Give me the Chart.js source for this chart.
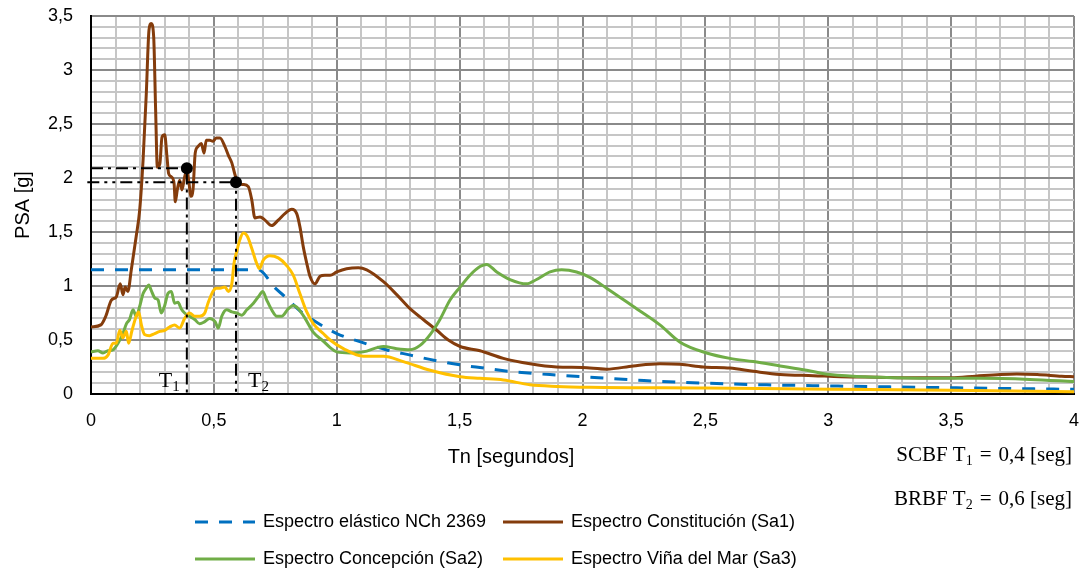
<!DOCTYPE html>
<html>
<head>
<meta charset="utf-8">
<script src="https://cdn.jsdelivr.net/npm/chart.js@4.4.1/dist/chart.umd.min.js"></script>
<style>
  body { margin: 0; background: #fff; }
  #wrap { width: 1084px; height: 573px; }
</style>
</head>
<body>
<div id="wrap"><canvas id="myChart" width="1084" height="573"></canvas></div>
<script>
// Espectro elástico NCh 2369
const tNCh = [0, 0.68, 0.75, 0.8, 0.85, 0.9, 0.95, 1.0, 1.1, 1.2, 1.3, 1.4, 1.5, 1.6, 1.7, 1.8, 1.9, 2.0, 2.25, 2.5, 2.75, 3.0, 3.25, 3.5, 3.75, 4.0];
const psaNCh = [1.15, 1.15, 0.98, 0.88, 0.77, 0.69, 0.62, 0.56, 0.48, 0.41, 0.36, 0.31, 0.27, 0.24, 0.21, 0.19, 0.175, 0.16, 0.125, 0.10, 0.085, 0.075, 0.066, 0.058, 0.05, 0.043];

// Espectro Constitución (Sa1)
const tSa1 = [0, 0.04, 0.06, 0.083, 0.103, 0.119, 0.13, 0.139, 0.15, 0.164, 0.184, 0.198, 0.212, 0.225, 0.236, 0.245, 0.255, 0.263, 0.27, 0.28, 0.289, 0.3, 0.309, 0.316, 0.327, 0.338, 0.343, 0.351, 0.361, 0.37, 0.381, 0.39, 0.399, 0.406, 0.415, 0.424, 0.435, 0.449, 0.46, 0.469, 0.483, 0.496, 0.51, 0.525, 0.545, 0.559, 0.573, 0.586, 0.599, 0.62, 0.64, 0.654, 0.667, 0.688, 0.708, 0.735, 0.762, 0.789, 0.817, 0.837, 0.85, 0.864, 0.878, 0.891, 0.911, 0.932, 0.952, 0.973, 1.0, 1.04, 1.088, 1.122, 1.19, 1.244, 1.298, 1.352, 1.407, 1.454, 1.502, 1.583, 1.678, 1.786, 1.895, 2.0, 2.098, 2.207, 2.315, 2.397, 2.492, 2.6, 2.695, 2.804, 2.939, 3.05, 3.2, 3.35, 3.5, 3.6, 3.7, 3.767, 3.85, 3.95, 4.0];
const psaSa1 = [0.62, 0.64, 0.72, 0.87, 0.9, 1.02, 0.92, 0.99, 0.95, 1.15, 1.46, 1.7, 2.17, 2.78, 3.37, 3.43, 3.31, 2.63, 2.1, 2.13, 2.38, 2.4, 2.2, 2.04, 2.01, 1.95, 1.78, 1.89, 1.98, 1.89, 2.01, 2.07, 1.95, 1.83, 1.89, 2.23, 2.29, 2.32, 2.23, 2.35, 2.35, 2.34, 2.37, 2.37, 2.29, 2.21, 2.14, 2.03, 1.95, 1.94, 1.92, 1.8, 1.63, 1.64, 1.61, 1.56, 1.61, 1.67, 1.71, 1.67, 1.55, 1.36, 1.21, 1.09, 1.02, 1.09, 1.1, 1.1, 1.13, 1.16, 1.17, 1.15, 1.04, 0.92, 0.79, 0.69, 0.59, 0.5, 0.44, 0.4, 0.33, 0.28, 0.25, 0.245, 0.23, 0.26, 0.28, 0.275, 0.25, 0.24, 0.21, 0.18, 0.17, 0.16, 0.155, 0.15, 0.15, 0.165, 0.18, 0.185, 0.18, 0.165, 0.16];

// Espectro Concepción (Sa2)
const tSa2 = [0, 0.028, 0.049, 0.069, 0.09, 0.11, 0.13, 0.144, 0.157, 0.171, 0.184, 0.198, 0.212, 0.225, 0.235, 0.245, 0.259, 0.273, 0.286, 0.3, 0.313, 0.327, 0.34, 0.354, 0.367, 0.381, 0.401, 0.422, 0.442, 0.463, 0.483, 0.505, 0.518, 0.532, 0.552, 0.573, 0.593, 0.613, 0.634, 0.661, 0.681, 0.699, 0.715, 0.735, 0.756, 0.776, 0.803, 0.823, 0.844, 0.871, 0.905, 0.945, 0.973, 1.0, 1.054, 1.108, 1.19, 1.244, 1.298, 1.339, 1.38, 1.42, 1.461, 1.502, 1.542, 1.583, 1.61, 1.651, 1.705, 1.773, 1.813, 1.868, 1.915, 1.976, 2.03, 2.098, 2.207, 2.315, 2.397, 2.505, 2.6, 2.695, 2.804, 2.912, 3.007, 3.21, 3.414, 3.617, 3.82, 4.0];
const psaSa2 = [0.39, 0.4, 0.38, 0.4, 0.41, 0.47, 0.56, 0.65, 0.69, 0.78, 0.72, 0.81, 0.93, 0.98, 1.01, 0.96, 0.89, 0.87, 0.75, 0.82, 0.93, 0.95, 0.84, 0.85, 0.79, 0.75, 0.72, 0.69, 0.65, 0.67, 0.7, 0.67, 0.61, 0.72, 0.78, 0.76, 0.75, 0.73, 0.78, 0.84, 0.9, 0.95, 0.87, 0.78, 0.72, 0.72, 0.79, 0.82, 0.79, 0.7, 0.57, 0.49, 0.43, 0.39, 0.38, 0.39, 0.44, 0.42, 0.41, 0.45, 0.55, 0.69, 0.87, 0.99, 1.1, 1.18, 1.2, 1.13, 1.06, 1.02, 1.06, 1.13, 1.15, 1.13, 1.08, 0.98, 0.81, 0.64, 0.48, 0.38, 0.33, 0.3, 0.26, 0.22, 0.18, 0.155, 0.145, 0.145, 0.135, 0.115];

// Espectro Viña del Mar (Sa3)
const tSa3 = [0, 0.049, 0.069, 0.09, 0.103, 0.117, 0.13, 0.144, 0.153, 0.167, 0.184, 0.194, 0.205, 0.218, 0.238, 0.259, 0.28, 0.3, 0.32, 0.34, 0.361, 0.381, 0.401, 0.422, 0.442, 0.463, 0.476, 0.496, 0.51, 0.525, 0.545, 0.559, 0.573, 0.582, 0.593, 0.606, 0.62, 0.636, 0.654, 0.674, 0.685, 0.701, 0.728, 0.762, 0.796, 0.823, 0.85, 0.878, 0.905, 0.945, 0.973, 1.027, 1.108, 1.19, 1.271, 1.38, 1.502, 1.583, 1.678, 1.786, 1.895, 2.03, 2.5, 3.0, 3.5, 4.0];
const psaSa3 = [0.33, 0.33, 0.36, 0.47, 0.47, 0.59, 0.52, 0.58, 0.47, 0.59, 0.72, 0.76, 0.64, 0.55, 0.54, 0.56, 0.58, 0.59, 0.62, 0.64, 0.61, 0.7, 0.75, 0.72, 0.72, 0.75, 0.84, 0.95, 0.98, 0.98, 0.99, 0.95, 1.02, 1.21, 1.32, 1.43, 1.49, 1.46, 1.35, 1.21, 1.16, 1.24, 1.28, 1.26, 1.19, 1.1, 0.93, 0.76, 0.65, 0.56, 0.5, 0.42, 0.35, 0.35, 0.3, 0.22, 0.16, 0.145, 0.13, 0.085, 0.07, 0.062, 0.055, 0.045, 0.035, 0.02];

// periodos de diseño
const T1 = 0.39, psaT1 = 2.09;
const T2 = 0.59, psaT2 = 1.96;

const xTicks = ["0", "0,5", "1", "1,5", "2", "2,5", "3", "3,5", "4"];

const toPts = (xs, ys) => xs.map((x, i) => ({ x: x, y: ys[i] }));

// textos con subíndice (T1, T2)
function drawParts(ctx, parts, x, y, align) {
    let total = 0;
    parts.forEach(p => { ctx.font = p.font; total += ctx.measureText(p.text).width; });
    let cx = align === "right" ? x - total : x;
    ctx.textAlign = "left";
    ctx.textBaseline = "alphabetic";
    parts.forEach(p => {
        ctx.font = p.font;
        ctx.fillText(p.text, cx, y + (p.dy || 0));
        cx += ctx.measureText(p.text).width;
    });
}

const textPlugin = {
    id: "textPlugin",
    afterDraw(chart) {
        const ctx = chart.ctx;
        const xs = chart.scales.x;
        ctx.save();
        ctx.fillStyle = "#000";

        // titulo eje y
        ctx.save();
        ctx.translate(23, 205);
        ctx.rotate(-Math.PI / 2);
        ctx.font = "20px 'Liberation Sans', Arial";
        ctx.textAlign = "center";
        ctx.textBaseline = "middle";
        ctx.fillText("PSA [g]", 0, 0);
        ctx.restore();

        // titulo eje x
        ctx.font = "20px 'Liberation Sans', Arial";
        ctx.textAlign = "center";
        ctx.textBaseline = "middle";
        ctx.fillText("Tn [segundos]", 511, 457);

        // etiquetas T1 y T2
        const serif = "'Liberation Serif', 'DejaVu Serif', serif";
        drawParts(ctx, [
            { text: "T", font: "22px " + serif },
            { text: "1", font: "15px " + serif, dy: 4 }
        ], xs.getPixelForValue(T1) - 28, 387, "left");
        drawParts(ctx, [
            { text: "T", font: "22px " + serif },
            { text: "2", font: "15px " + serif, dy: 4 }
        ], xs.getPixelForValue(T2) + 12, 387, "left");

        // notas a la derecha
        drawParts(ctx, [
            { text: "SCBF T", font: "21px " + serif },
            { text: "1", font: "14px " + serif, dy: 4 },
            { text: "\u2004=\u20040,4 [seg]", font: "21px " + serif }
        ], 1072, 461, "right");
        drawParts(ctx, [
            { text: "BRBF T", font: "21px " + serif },
            { text: "2", font: "14px " + serif, dy: 4 },
            { text: "\u2004=\u20040,6 [seg]", font: "21px " + serif }
        ], 1072, 505, "right");

        // leyenda
        const items = [0, 1, 2, 3].map(i => chart.data.datasets[i]);
        const pos = [[195, 522], [503, 522], [195, 559], [503, 559]];
        items.forEach((ds, i) => {
            const [lx, ly] = pos[i];
            ctx.save();
            ctx.strokeStyle = ds.borderColor;
            ctx.lineWidth = 3;
            ctx.setLineDash(ds.borderDash || []);
            ctx.beginPath();
            ctx.moveTo(lx, ly);
            ctx.lineTo(lx + 60, ly);
            ctx.stroke();
            ctx.restore();
            ctx.font = "18px 'Liberation Sans', Arial";
            ctx.textAlign = "left";
            ctx.textBaseline = "middle";
            ctx.fillText(ds.label, lx + 68, ly);
        });
        ctx.restore();
    }
};

function gridColor(c) {
    const k = Math.round(c.tick.value * 10);
    return k % 5 === 0 ? "#8a8a8a" : "#c6c6c6";
}

function noPad(s) {
    s.paddingTop = 0; s.paddingBottom = 0; s.paddingLeft = 0; s.paddingRight = 0;
}

function initChart() {
    const ctx = document.getElementById("myChart").getContext("2d");
    const lineBase = { showLine: true, pointRadius: 0, borderWidth: 3, cubicInterpolationMode: "monotone", fill: false };
    new Chart(ctx, {
        type: "scatter",
        data: {
            datasets: [
                Object.assign({}, lineBase, { label: "Espectro elástico NCh 2369", data: toPts(tNCh, psaNCh), borderColor: "#0070C0", borderDash: [13, 11], order: 4 }),
                Object.assign({}, lineBase, { label: "Espectro Constitución (Sa1)", data: toPts(tSa1, psaSa1), borderColor: "#843C0C", order: 3 }),
                Object.assign({}, lineBase, { label: "Espectro Concepción (Sa2)", data: toPts(tSa2, psaSa2), borderColor: "#70AD47", order: 2 }),
                Object.assign({}, lineBase, { label: "Espectro Viña del Mar (Sa3)", data: toPts(tSa3, psaSa3), borderColor: "#FFC000", order: 1 }),
                {
                    label: "T1", showLine: true, clip: false, order: 0,
                    data: [{ x: 0, y: psaT1 }, { x: T1, y: psaT1 }, { x: T1, y: 0 }],
                    borderColor: "#000", borderWidth: 2, borderDash: [12, 5, 3, 5], tension: 0,
                    pointRadius: [0, 5, 0], pointBackgroundColor: "#000", pointBorderColor: "#000"
                },
                {
                    label: "T2", showLine: true, clip: false, order: 0,
                    data: [{ x: -0.015, y: psaT2 }, { x: T2, y: psaT2 }, { x: T2, y: 0 }],
                    borderColor: "#000", borderWidth: 2, borderDash: [12, 5, 3, 5, 3, 5], tension: 0,
                    pointRadius: [0, 5, 0], pointBackgroundColor: "#000", pointBorderColor: "#000"
                }
            ]
        },
        options: {
            responsive: false,
            animation: false,
            devicePixelRatio: 1,
            layout: { padding: { top: 16, right: 10, left: 0, bottom: 0 } },
            plugins: { legend: { display: false }, tooltip: { enabled: false } },
            scales: {
                x: {
                    type: "linear", min: 0, max: 4,
                    afterFit: s => { s.height = 179; noPad(s); },
                    ticks: {
                        stepSize: 0.1, autoSkip: false, maxRotation: 0, padding: 16,
                        color: "#000", font: { family: "'Liberation Sans', Arial", size: 18 },
                        callback: v => { const k = Math.round(v * 10); return k % 5 === 0 ? xTicks[k / 5] : ""; }
                    },
                    grid: { color: gridColor, lineWidth: 2, drawTicks: false },
                    border: { color: "#000", width: 2 }
                },
                y: {
                    min: 0, max: 3.5,
                    afterFit: s => { s.width = 91; noPad(s); },
                    ticks: {
                        stepSize: 0.1, autoSkip: false, padding: 18,
                        color: "#000", font: { family: "'Liberation Sans', Arial", size: 18 },
                        callback: v => { const k = Math.round(v * 10); return k % 5 === 0 ? String(k / 10).replace(".", ",") : ""; }
                    },
                    grid: { color: gridColor, lineWidth: 2, drawTicks: false },
                    border: { color: "#000", width: 2 }
                }
            }
        },
        plugins: [textPlugin]
    });
}

window.onload = function () {
    initChart();
};
</script>
</body>
</html>
